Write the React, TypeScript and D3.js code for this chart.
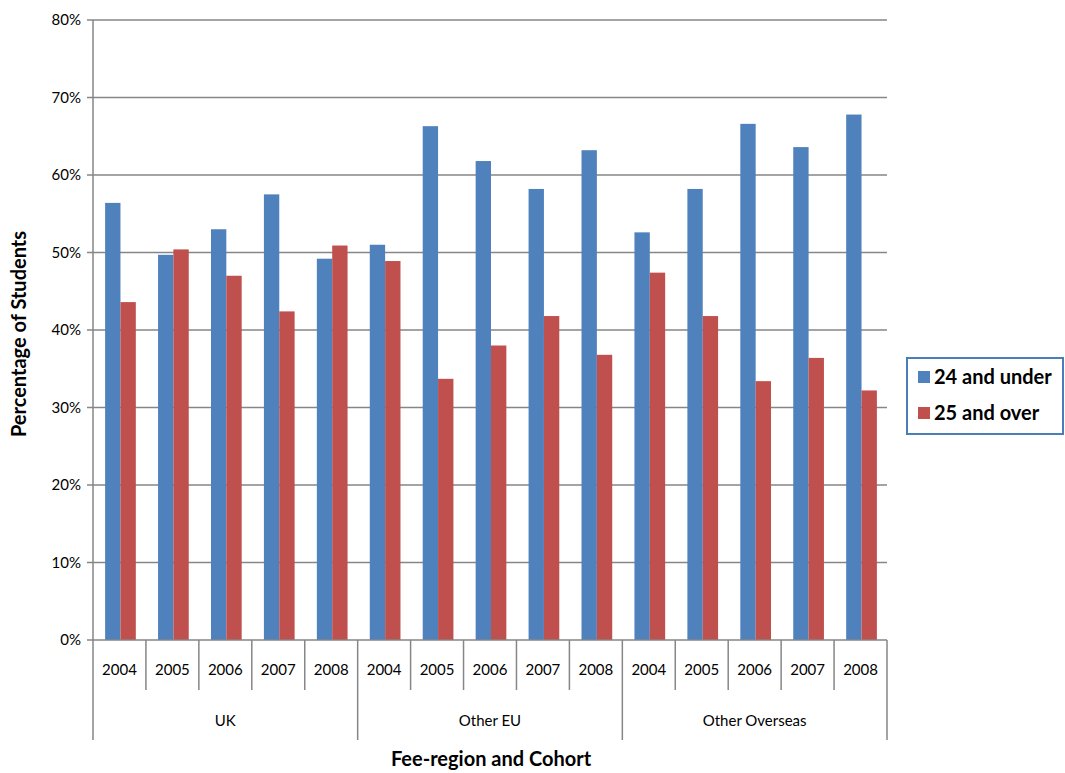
import React from 'react';
import * as d3 from 'd3';

const regions = ['UK', 'Other EU', 'Other Overseas'];
const years = ['2004', '2005', '2006', '2007', '2008'];
const under24 = [56.4, 49.7, 53.0, 57.5, 49.2, 51.0, 66.3, 61.8, 58.2, 63.2, 52.6, 58.2, 66.6, 63.6, 67.8];
const over25 = [43.6, 50.4, 47.0, 42.4, 50.9, 48.9, 33.7, 38.0, 41.8, 36.8, 47.4, 41.8, 33.4, 36.4, 32.2];
const yTicks = [0, 10, 20, 30, 40, 50, 60, 70, 80];

const W = 1065, H = 773;
const left = 93, right = 887, top = 20, bottom = 640;
const font = 'Lato, "Open Sans", sans-serif';
const grid = '#868686';

export default function App() {
  const cats = regions.flatMap(r => years.map(y => `${r}|${y}`));
  const x = d3.scaleBand().domain(cats).range([left, right]).paddingInner(0).paddingOuter(0);
  const y = d3.scaleLinear().domain([0, 80]).range([bottom, top]);
  const bw = x.bandwidth();
  const barW = bw * 0.29;
  const regionEdges = regions.map((_, i) => left + i * 5 * bw).concat([right]);

  return (
    <svg width={W} height={H} style={{ position: 'absolute', left: 0, top: 0 }} fontFamily={font}>
      {yTicks.map(t => (
        <g key={t}>
          {t > 0 && <line x1={left} x2={right} y1={y(t)} y2={y(t)} stroke={grid} strokeWidth={1.5} />}
          <line x1={left - 6} x2={left} y1={y(t)} y2={y(t)} stroke={grid} strokeWidth={1.5} />
          <text x={left - 12} y={y(t)} dy="0.35em" textAnchor="end" fontSize={15}>{t}%</text>
        </g>
      ))}
      {cats.map((c, i) => {
        const x0 = x(c)!;
        const start = x0 + (bw - 2 * barW) / 2 + 1;
        return (
          <g key={c}>
            <rect x={start} y={y(under24[i])} width={barW} height={bottom - y(under24[i])} fill="#4F81BD" />
            <rect x={start + barW} y={y(over25[i])} width={barW} height={bottom - y(over25[i])} fill="#C0504D" />
            <text x={x0 + bw / 2} y={670} dy="0.35em" textAnchor="middle" fontSize={15}>{years[i % 5]}</text>
            {i % 5 !== 0 && <line x1={x0} x2={x0} y1={bottom} y2={690} stroke={grid} strokeWidth={1.5} />}
          </g>
        );
      })}
      {regionEdges.map((e, i) => (
        <line key={i} x1={e} x2={e} y1={bottom} y2={740} stroke={grid} strokeWidth={1.5} />
      ))}
      {regions.map((r, i) => (
        <text key={r} x={(regionEdges[i] + regionEdges[i + 1]) / 2} y={721} dy="0.35em" textAnchor="middle" fontSize={15}>{r}</text>
      ))}
      <line x1={left} x2={left} y1={top} y2={bottom} stroke={grid} strokeWidth={1.5} />
      <line x1={left} x2={right} y1={bottom} y2={bottom} stroke={grid} strokeWidth={1.5} />
      <text x={491} y={759} dy="0.35em" textAnchor="middle" fontSize={20} fontWeight="bold">Fee-region and Cohort</text>
      <text transform={`translate(19,334) rotate(-90)`} dy="0.35em" textAnchor="middle" fontSize={20} fontWeight="bold">Percentage of Students</text>
      <rect x={907} y={358} width={156} height={76} fill="white" stroke="#4A7EBB" strokeWidth={2} />
      <rect x={918} y={371} width={12} height={12} fill="#4F81BD" />
      <text x={934} y={377} dy="0.35em" fontSize={20} fontWeight="bold">24 and under</text>
      <rect x={918} y={407} width={12} height={12} fill="#C0504D" />
      <text x={934} y={413} dy="0.35em" fontSize={20} fontWeight="bold">25 and over</text>
    </svg>
  );
}
